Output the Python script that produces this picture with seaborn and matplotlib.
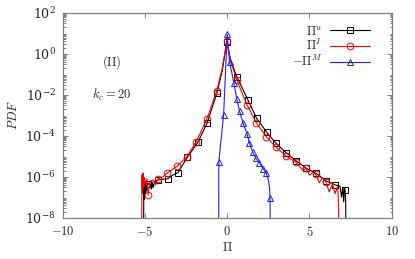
import numpy as np
import matplotlib
matplotlib.use("Agg")
import matplotlib.pyplot as plt
import matplotlib.ticker as mticker
import seaborn as sns

# -------------------------------
# Data
# -------------------------------
# Pi^u (black, squares)
pu_x = [-5.08, -5.07, -5.04, -5.0, -4.97, -4.93, -4.9, -4.85, -4.81, -4.7, -4.6, -4.55, -4.5, -4.4,
        -4.2, -3.9, -3.6, -3.3, -2.99, -2.42, -1.78, -1.22, -0.63, -0.3, -0.02, 0.2, 0.58,
        1.25, 1.78, 2.4, 2.97, 3.58, 4.18, 4.79, 5.39, 6.0, 6.56, 6.85, 6.95, 7.02, 7.08,
        7.12, 7.17, 7.2, 7.22]
pu_y = [1e-9, 3e-7, 8e-8, 5e-7, 1.5e-7, 6e-7, 2e-7, 5e-7, 4.2e-7, 5e-7, 2.5e-7, 5.5e-7, 3e-7, 6e-7,
        7e-7, 7.5e-7, 8e-7, 1.2e-6, 1.6e-6, 8.9e-6, 4.8e-5, 4.2e-4, 1.17e-2, 0.15, 3.9, 0.5, 7.6e-2,
        5.8e-3, 7.2e-4, 1.48e-4, 4.2e-5, 1.48e-5, 6.0e-6, 2.6e-6, 1.48e-6, 6.3e-7, 4.0e-7, 3.5e-7, 1e-7, 3e-7, 6e-8,
        2.8e-7, 2.2e-7, 5e-8, 1e-9]
pu_marks = [8, 14, 16, 18, 19, 20, 21, 22, 24, 26, 27, 28, 29, 30, 31, 32, 33, 34, 35, 36, 42]

# Pi^I (red, circles)
pi_x = [-5.2, -5.18, -5.15, -5.12, -5.08, -5.03, -4.95, -4.88, -4.81, -4.7, -4.5, -4.35, -4.2,
        -3.9, -3.66, -3.03, -2.45, -1.88, -1.24, -0.63, -0.3, -0.02, 0.2, 0.58, 1.2, 1.77,
        2.37, 2.97, 3.58, 4.18, 4.6, 4.79, 5.0, 5.2, 5.39, 5.6, 5.8, 6.0, 6.2, 6.4, 6.55,
        6.7, 6.75, 6.8]
pi_y = [1e-9, 1.2e-6, 1.5e-7, 1.5e-6, 3e-7, 9e-7, 4e-7, 8e-7, 1.3e-7, 6e-7, 7e-7, 4e-7, 8e-7,
        1e-6, 1.48e-6, 3.3e-6, 9.5e-6, 5.1e-5, 6.3e-4, 1.58e-2, 0.2, 4.3, 0.45, 5.2e-2, 3.2e-3, 4.3e-4,
        9e-5, 2.7e-5, 1.02e-5, 5e-6, 2e-6, 2.6e-6, 1.2e-6, 1.6e-6, 1.3e-6, 5e-7, 9e-7, 5.5e-7, 1.8e-7,
        4.5e-7, 1.5e-7, 3.2e-7, 1e-7, 1e-9]
pi_marks = [8, 12, 14, 15, 16, 17, 18, 19, 21, 23, 24, 25, 26, 27, 28, 29, 31, 34, 37]

# -Pi^M (blue, triangles)
pm_x = [-0.52, -0.51, -0.22, 0.0, 0.14, 0.4, 0.58, 0.75, 0.97, 1.2, 1.35, 1.54, 1.74, 1.96,
        2.18, 2.38, 2.5, 2.57, 2.6, 2.62]
pm_y = [1e-9, 5.4e-6, 1e-3, 9.0, 0.41, 3.9e-2, 6.2e-3, 1.6e-3, 4e-4, 1.26e-4, 4.5e-5, 1.66e-5,
        7.9e-6, 4.8e-6, 2.5e-6, 1.48e-6, 7e-7, 3e-7, 8.9e-8, 1e-9]
pm_marks = [1, 2, 3, 4, 5, 6, 7, 8, 9, 10, 11, 12, 13, 14, 15, 18]

sns.set_style("ticks")
plt.rcParams["font.family"] = ["DejaVu Serif"]
plt.rcParams["mathtext.fontset"] = "cm"
plt.rcParams["font.size"] = 9

fig = plt.figure(figsize=(4.15, 2.59), dpi=100)
ax = fig.add_axes([0.151, 0.1595, 0.793, 0.7915])

sns.lineplot(x=pu_x, y=pu_y, ax=ax, sort=False, estimator=None, color="black", lw=0.8,
             marker="s", markersize=4.6, markevery=pu_marks, markerfacecolor="none",
             markeredgecolor="black", markeredgewidth=0.7, label=r"$\Pi^u$")
sns.lineplot(x=pi_x, y=pi_y, ax=ax, sort=False, estimator=None, color="#ff0000", lw=0.8,
             marker="o", markersize=4.8, markevery=pi_marks, markerfacecolor="none",
             markeredgecolor="#ff0000", markeredgewidth=0.7, label=r"$\Pi^I$")
sns.lineplot(x=pm_x, y=pm_y, ax=ax, sort=False, estimator=None, color="#2020ff", lw=0.8,
             marker="^", markersize=4.4, markevery=pm_marks, markerfacecolor="none",
             markeredgecolor="#2020ff", markeredgewidth=0.7, label=r"$-\Pi^M$")

ax.set_yscale("log")
ax.set_xlim(-10, 10)
ax.set_ylim(1e-8, 1e2)
ax.set_xticks([-10, -5, 0, 5, 10])
ax.xaxis.set_major_formatter(mticker.FuncFormatter(lambda v, p: f"${v:g}$"))
ax.set_yticks([1e-8, 1e-6, 1e-4, 1e-2, 1e0, 1e2])
ax.yaxis.set_minor_locator(mticker.LogLocator(base=10, subs=np.arange(2, 10), numticks=100))
ax.yaxis.set_minor_formatter(mticker.NullFormatter())

ax.tick_params(which="both", direction="in", top=True, right=True, color="#808080", width=0.7)
ax.tick_params(which="major", length=3.5, pad=5)
ax.tick_params(which="minor", length=1.8)
for s in ax.spines.values():
    s.set_color("#808080")
    s.set_linewidth(0.9)

ax.set_xlabel(r"$\Pi$", labelpad=2)
ax.set_ylabel(r"$PDF$", labelpad=4)

ax.text(-7.0, 10**-0.39, r"$\mathrm{(II)}$", ha="center", va="center")
ax.text(-7.0, 10**-2.0, r"$k_c = 20$", ha="center", va="center")

ax.legend(loc="upper right", bbox_to_anchor=(0.965, 0.99), markerfirst=False, frameon=False,
          handlelength=3.2, labelspacing=0.05, handletextpad=0.6, borderpad=0.3)

fig.savefig("out.png", dpi=100)
